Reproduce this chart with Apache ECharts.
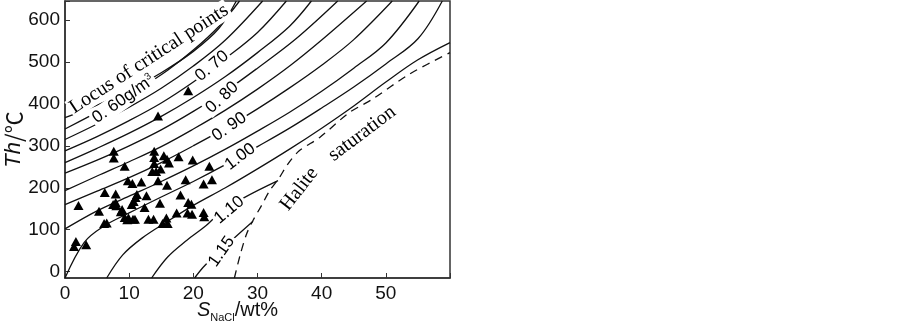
<!DOCTYPE html>
<html><head><meta charset="utf-8">
<script src="https://cdn.jsdelivr.net/npm/echarts/dist/echarts.min.js"></script>
<style>html,body{margin:0;padding:0;background:#fff}#c{width:903px;height:322px}</style>
</head><body><div id="c"></div>
<script>
// ---- data (S wt%, Th °C) ----
const locus = [[0,367],[5,397],[10,432],[15,474],[20,525],[24,580],[26.7,645]];
const d060 = [[0,340],[4,372],[8,405],[12,440],[16,480],[20,528],[24,585],[27.2,645]];
const d065 = [[0,315],[5,352],[10,392],[15,437],[20,490],[25,552],[30.8,645]];
const d070 = [[0,288],[5,322],[10,360],[15,402],[20,452],[25,508],[30,570],[34.5,645]];
const d075 = [[0,260],[5,294],[10,330],[15,370],[20,415],[25,465],[30,522],[35,585],[38.4,645]];
const d080 = [[0,235],[5,266],[10,300],[15,338],[20,382],[25,430],[30,485],[36,555],[42.5,645]];
const d085 = [[0,193],[5,228],[10,262],[15,298],[20,340],[25,385],[30,435],[35,490],[40,552],[47,645]];
const d090 = [[0,160],[5,192],[10,224],[15,260],[20,300],[25,342],[30,388],[35,438],[40,492],[45,553],[51,645]];
const d095 = [[0,102],[5,145],[10,180],[15,215],[20,252],[25,292],[30,335],[35,380],[40,430],[45,485],[50,545],[55.2,645]];
const d100 = [[0,-15],[3,70],[6,108],[10,140],[15,178],[20,215],[25,255],[30,298],[35,342],[40,390],[45,440],[50,495],[55,555],[58.8,645]];
const d105 = [[6.5,-15],[9,40],[12,80],[16,120],[20,158],[25,200],[30,245],[35,292],[40,342],[45,395],[50,452],[55,505],[60,546]];
const d110 = [[13.5,-15],[16,35],[19,75],[22,110],[24,138],[28,177],[33.2,217]];
const d115 = [[20.2,-15],[21.5,10],[23.6,43],[26.2,78],[29.3,120]];
const halite = [[26.4,-15],[27.3,40],[28.3,90],[29.3,122],[30.6,157],[31.9,193],[33.4,224],[34.7,256],[36.5,288],[39.7,320],[44.3,379],[47.9,411],[53.7,471],[60,522]];

const samples = [
[1.4,60],[1.7,72],[3.3,64],[2.1,158],[5.3,144],[6.2,189],[6.1,115],[6.5,116],
[7.6,287],[7.6,271],[9.3,251],[7.9,185],[7.5,160],[7.9,165],[8.0,157],[8.7,143],[8.9,148],
[9.3,129],[9.7,124],[9.9,128],[10.6,125],[10.9,125],[9.8,217],[10.5,210],[11.9,214],
[10.7,167],[11.0,177],[11.2,184],[10.4,160],[12.7,181],[12.4,153],[13.0,125],[13.8,125],
[13.9,287],[13.9,272],[13.9,258],[13.6,239],[14.2,239],[14.9,245],[14.5,217],
[15.4,276],[15.9,268],[16.2,259],[17.7,274],[19.9,266],[15.9,206],[18.8,219],
[22.5,251],[22.9,219],[21.6,209],[14.8,163],[15.2,115],[16.0,115],[15.8,128],
[17.4,140],[18.0,183],[19.2,165],[19.7,161],[19.1,140],[19.8,137],[21.6,141],[21.7,131],
[14.5,371],[19.2,431]
];

const xTicks = [0,10,20,30,40,50];
const yTicks = [0,100,200,300,400,500,600];

// annotation texts and their anchor (S, Th) and angle
const annTexts = ['Locus of critical points','0. 60g/m{sup|3}','0. 70','0. 80','0. 90','1.00','1.10','1.15','Halite','saturation'];
const annPos = [[13.1,507],[9.1,411],[22.9,490],[24.5,415],[25.6,345],[27.3,274],[25.6,147],[24.4,48],[36.5,197],[46.3,329]];
const annAngle = [33,35,40,43,35,37,40,55,52,37];
const annSerif = [true,false,false,false,false,false,false,false,true,true];

const curves = [locus,d060,d065,d070,d075,d080,d085,d090,d095,d100,d105,d110,d115];

const chart = echarts.init(document.getElementById('c'), null, {renderer:'canvas'});
const series = curves.map(c => ({
  type:'line', data:c, showSymbol:false, smooth:0.35, silent:true, z:2,
  lineStyle:{color:'#111', width:1.3}
}));
series.push({type:'line', data:halite, showSymbol:false, smooth:0.3, silent:true, z:2,
  lineStyle:{color:'#111', width:1.3, type:[8,6]}});
series.push({type:'scatter', data:samples, symbol:'triangle', symbolSize:[10,9], z:5,
  itemStyle:{color:'#000', opacity:1}});
series.push({type:'scatter', z:4, symbolSize:0.1, itemStyle:{color:'#fff', opacity:1},
  data: annTexts.map((t,i)=>({value:annPos[i], label:{
    show:true, position:'inside', rotate:annAngle[i], formatter:t,
    fontFamily: annSerif[i] ? 'Liberation Serif' : 'Liberation Sans',
    fontSize: annSerif[i] ? 20 : 17, color:'#000',
    backgroundColor:'#fff', padding:[0,2],
    rich:{sup:{fontSize:10, verticalAlign:'top', padding:[0,0,9,0], fontFamily:'Liberation Sans', color:'#000'}}
  }}))
});

chart.setOption({
  animation:false,
  backgroundColor:'#fff',
  grid:{left:65, right:453, top:1, bottom:44, outerBoundsMode:'none', containLabel:false,
    show:true, borderColor:'#333', borderWidth:1.5, backgroundColor:'transparent'},
  xAxis:{type:'value', min:0, max:60, interval:10,
    axisLine:{onZero:false, lineStyle:{color:'#333', width:1.5}},
    axisTick:{inside:true, length:5, lineStyle:{color:'#333'}},
    splitLine:{show:false},
    axisLabel:{color:'#111', fontSize:19, fontFamily:'Liberation Sans', margin:6,
      formatter: v => xTicks.includes(v) ? String(v) : ''},
    name:'{i|S}{s|NaCl}{n|/wt%}', nameLocation:'middle', nameGap:22, nameMoveOverlap:false,
    nameTextStyle:{padding:[0,40,0,0], rich:{
      i:{fontSize:20, fontStyle:'italic', fontFamily:'Liberation Sans', color:'#111', verticalAlign:'bottom'},
      s:{fontSize:11, fontFamily:'Liberation Sans', color:'#111', verticalAlign:'bottom', padding:[0,0,-3,0]},
      n:{fontSize:20, fontFamily:'Liberation Sans', color:'#111', verticalAlign:'bottom'}
    }}
  },
  yAxis:{type:'value', min:-15, max:645,
    axisLine:{show:true, onZero:false, lineStyle:{color:'#333', width:1.5}},
    axisTick:{show:true, inside:true, length:5, lineStyle:{color:'#333'}},
    splitLine:{show:false},
    axisLabel:{color:'#111', fontSize:19, fontFamily:'Liberation Sans', margin:5,
      formatter: v => yTicks.includes(v) ? String(v) : ''},
    name:'{i|Th}{n|/℃}', nameLocation:'middle', nameGap:40, nameRotate:90, nameMoveOverlap:false,
    nameTextStyle:{rich:{
      i:{fontSize:22, fontStyle:'italic', fontFamily:'Liberation Sans', color:'#111'},
      n:{fontSize:22, fontFamily:'Noto Sans CJK SC, DejaVu Sans', color:'#111'}
    }}
  },
  series: series
});
</script></body></html>
